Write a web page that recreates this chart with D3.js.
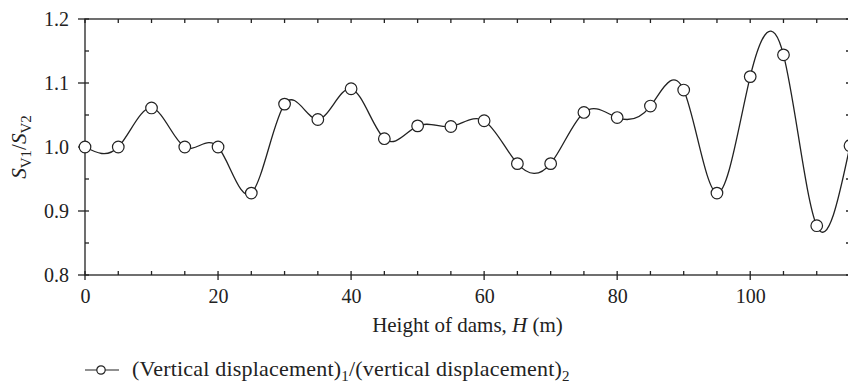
<!DOCTYPE html>
<html>
<head>
<meta charset="utf-8">
<script src="https://cdn.jsdelivr.net/npm/d3@7"></script>
<style>
  body { margin: 0; background: #fff; }
  svg { font-family: "Liberation Serif", "DejaVu Serif", serif; }
</style>
</head>
<body>
<svg id="chart"></svg>
<script>
// data
const heights = [0, 5, 10, 15, 20, 25, 30, 35, 40, 45, 50, 55, 60, 65, 70, 75, 80, 85, 90, 95, 100, 105, 110, 115];
const ratios = [1.000, 1.000, 1.061, 1.000, 1.000, 0.928, 1.067, 1.043, 1.091, 1.013, 1.033, 1.032, 1.041, 0.974, 0.974, 1.054, 1.046, 1.064, 1.089, 0.928, 1.110, 1.144, 0.877, 1.002];
const xTicks = [0, 20, 40, 60, 80, 100];
const yTicks = [0.8, 0.9, 1.0, 1.1, 1.2];

const width = 848, height = 383;
const margin = { top: 19, right: -2, bottom: 108, left: 85 };
const ink = '#222';

const svg = d3.select('#chart')
    .attr('width', width)
    .attr('height', height);

const x = d3.scaleLinear()
    .domain([0, 115])
    .range([margin.left, width - margin.right]);

const y = d3.scaleLinear()
    .domain([0.8, 1.2])
    .range([height - margin.bottom, margin.top]);

const data = heights.map((h, i) => ({ h, v: ratios[i] }));

// minor ticks every 5 on x, every 0.05 on y
const xMinor = d3.range(0, 116, 5);
const yMinor = d3.range(0.8, 1.2001, 0.05);
const tickLen = 4;

// bottom axis labels
svg.append('g')
    .attr('transform', `translate(0,${y(0.8)})`)
    .call(d3.axisBottom(x).tickValues(xTicks).tickSize(0).tickPadding(14).tickFormat(d3.format('d')))
    .attr('font-family', null)
    .attr('font-size', 20)
    .call(g => g.select('.domain').remove())
    .call(g => g.selectAll('text').attr('fill', ink));

// left axis labels
svg.append('g')
    .attr('transform', `translate(${x(0)},0)`)
    .call(d3.axisLeft(y).tickValues(yTicks).tickSize(0).tickPadding(16).tickFormat(d3.format('.1f')))
    .attr('font-family', null)
    .attr('font-size', 20)
    .call(g => g.select('.domain').remove())
    .call(g => g.selectAll('text').attr('fill', ink));

const frame = svg.append('g').attr('stroke', ink).attr('stroke-width', 1.3);

// inward ticks on all four sides
xMinor.forEach(t => {
    frame.append('line').attr('x1', x(t)).attr('x2', x(t))
        .attr('y1', y(0.8)).attr('y2', y(0.8) - tickLen);
    frame.append('line').attr('x1', x(t)).attr('x2', x(t))
        .attr('y1', y(1.2)).attr('y2', y(1.2) + tickLen);
});
yMinor.forEach(t => {
    frame.append('line').attr('x1', x(0)).attr('x2', x(0) + tickLen)
        .attr('y1', y(t)).attr('y2', y(t));
    frame.append('line').attr('x1', x(115)).attr('x2', x(115) - tickLen)
        .attr('y1', y(t)).attr('y2', y(t));
});
// labelled ticks also stick out
yTicks.forEach(t => {
    frame.append('line').attr('x1', x(0) - 7).attr('x2', x(0))
        .attr('y1', y(t)).attr('y2', y(t));
});
xTicks.forEach(t => {
    frame.append('line').attr('x1', x(t)).attr('x2', x(t))
        .attr('y1', y(0.8)).attr('y2', y(0.8) + 5);
});

frame.append('rect')
    .attr('x', x(0)).attr('y', y(1.2))
    .attr('width', x(115) - x(0)).attr('height', y(0.8) - y(1.2))
    .attr('fill', 'none');

// smooth line
const line = d3.line()
    .x(d => x(d.h))
    .y(d => y(d.v))
    .curve(d3.curveNatural);

svg.append('path')
    .datum(data)
    .attr('d', line)
    .attr('fill', 'none')
    .attr('stroke', ink)
    .attr('stroke-width', 1.3);

svg.selectAll('.pt')
    .data(data)
    .join('circle')
    .attr('class', 'pt')
    .attr('cx', d => x(d.h))
    .attr('cy', d => y(d.v))
    .attr('r', 5.8)
    .attr('fill', '#fff')
    .attr('stroke', ink)
    .attr('stroke-width', 1.2);

// axis titles
const xt = svg.append('text')
    .attr('x', (x(0) + x(115)) / 2)
    .attr('y', 332)
    .attr('text-anchor', 'middle')
    .attr('font-size', 21)
    .attr('fill', ink);
xt.append('tspan').text('Height of dams, ');
xt.append('tspan').attr('font-style', 'italic').text('H');
xt.append('tspan').text(' (m)');

const yt = svg.append('text')
    .attr('transform', `translate(26,${(y(0.8) + y(1.2)) / 2}) rotate(-90)`)
    .attr('text-anchor', 'middle')
    .attr('font-size', 21)
    .attr('fill', ink);
yt.append('tspan').attr('font-style', 'italic').text('S');
yt.append('tspan').attr('font-size', 15).attr('dy', 5).text('V1');
yt.append('tspan').attr('dy', -5).text('/');
yt.append('tspan').attr('font-style', 'italic').text('S');
yt.append('tspan').attr('font-size', 15).attr('dy', 5).text('V2');

// legend
const lg = svg.append('g').attr('transform', 'translate(0,370)');
lg.append('line').attr('x1', 85).attr('x2', 119).attr('y1', 0).attr('y2', 0)
    .attr('stroke', ink).attr('stroke-width', 1.2);
lg.append('circle').attr('cx', 101).attr('cy', 0).attr('r', 4.2)
    .attr('fill', '#fff').attr('stroke', ink).attr('stroke-width', 1.2);
const lt = lg.append('text')
    .attr('x', 132).attr('y', 6)
    .attr('font-size', 22)
    .attr('letter-spacing', 0.2)
    .attr('fill', ink);
lt.append('tspan').text('(Vertical displacement)');
lt.append('tspan').attr('font-size', 15).attr('dy', 5).text('1');
lt.append('tspan').attr('dy', -5).text('/(vertical displacement)');
lt.append('tspan').attr('font-size', 15).attr('dy', 5).text('2');
</script>
</body>
</html>
